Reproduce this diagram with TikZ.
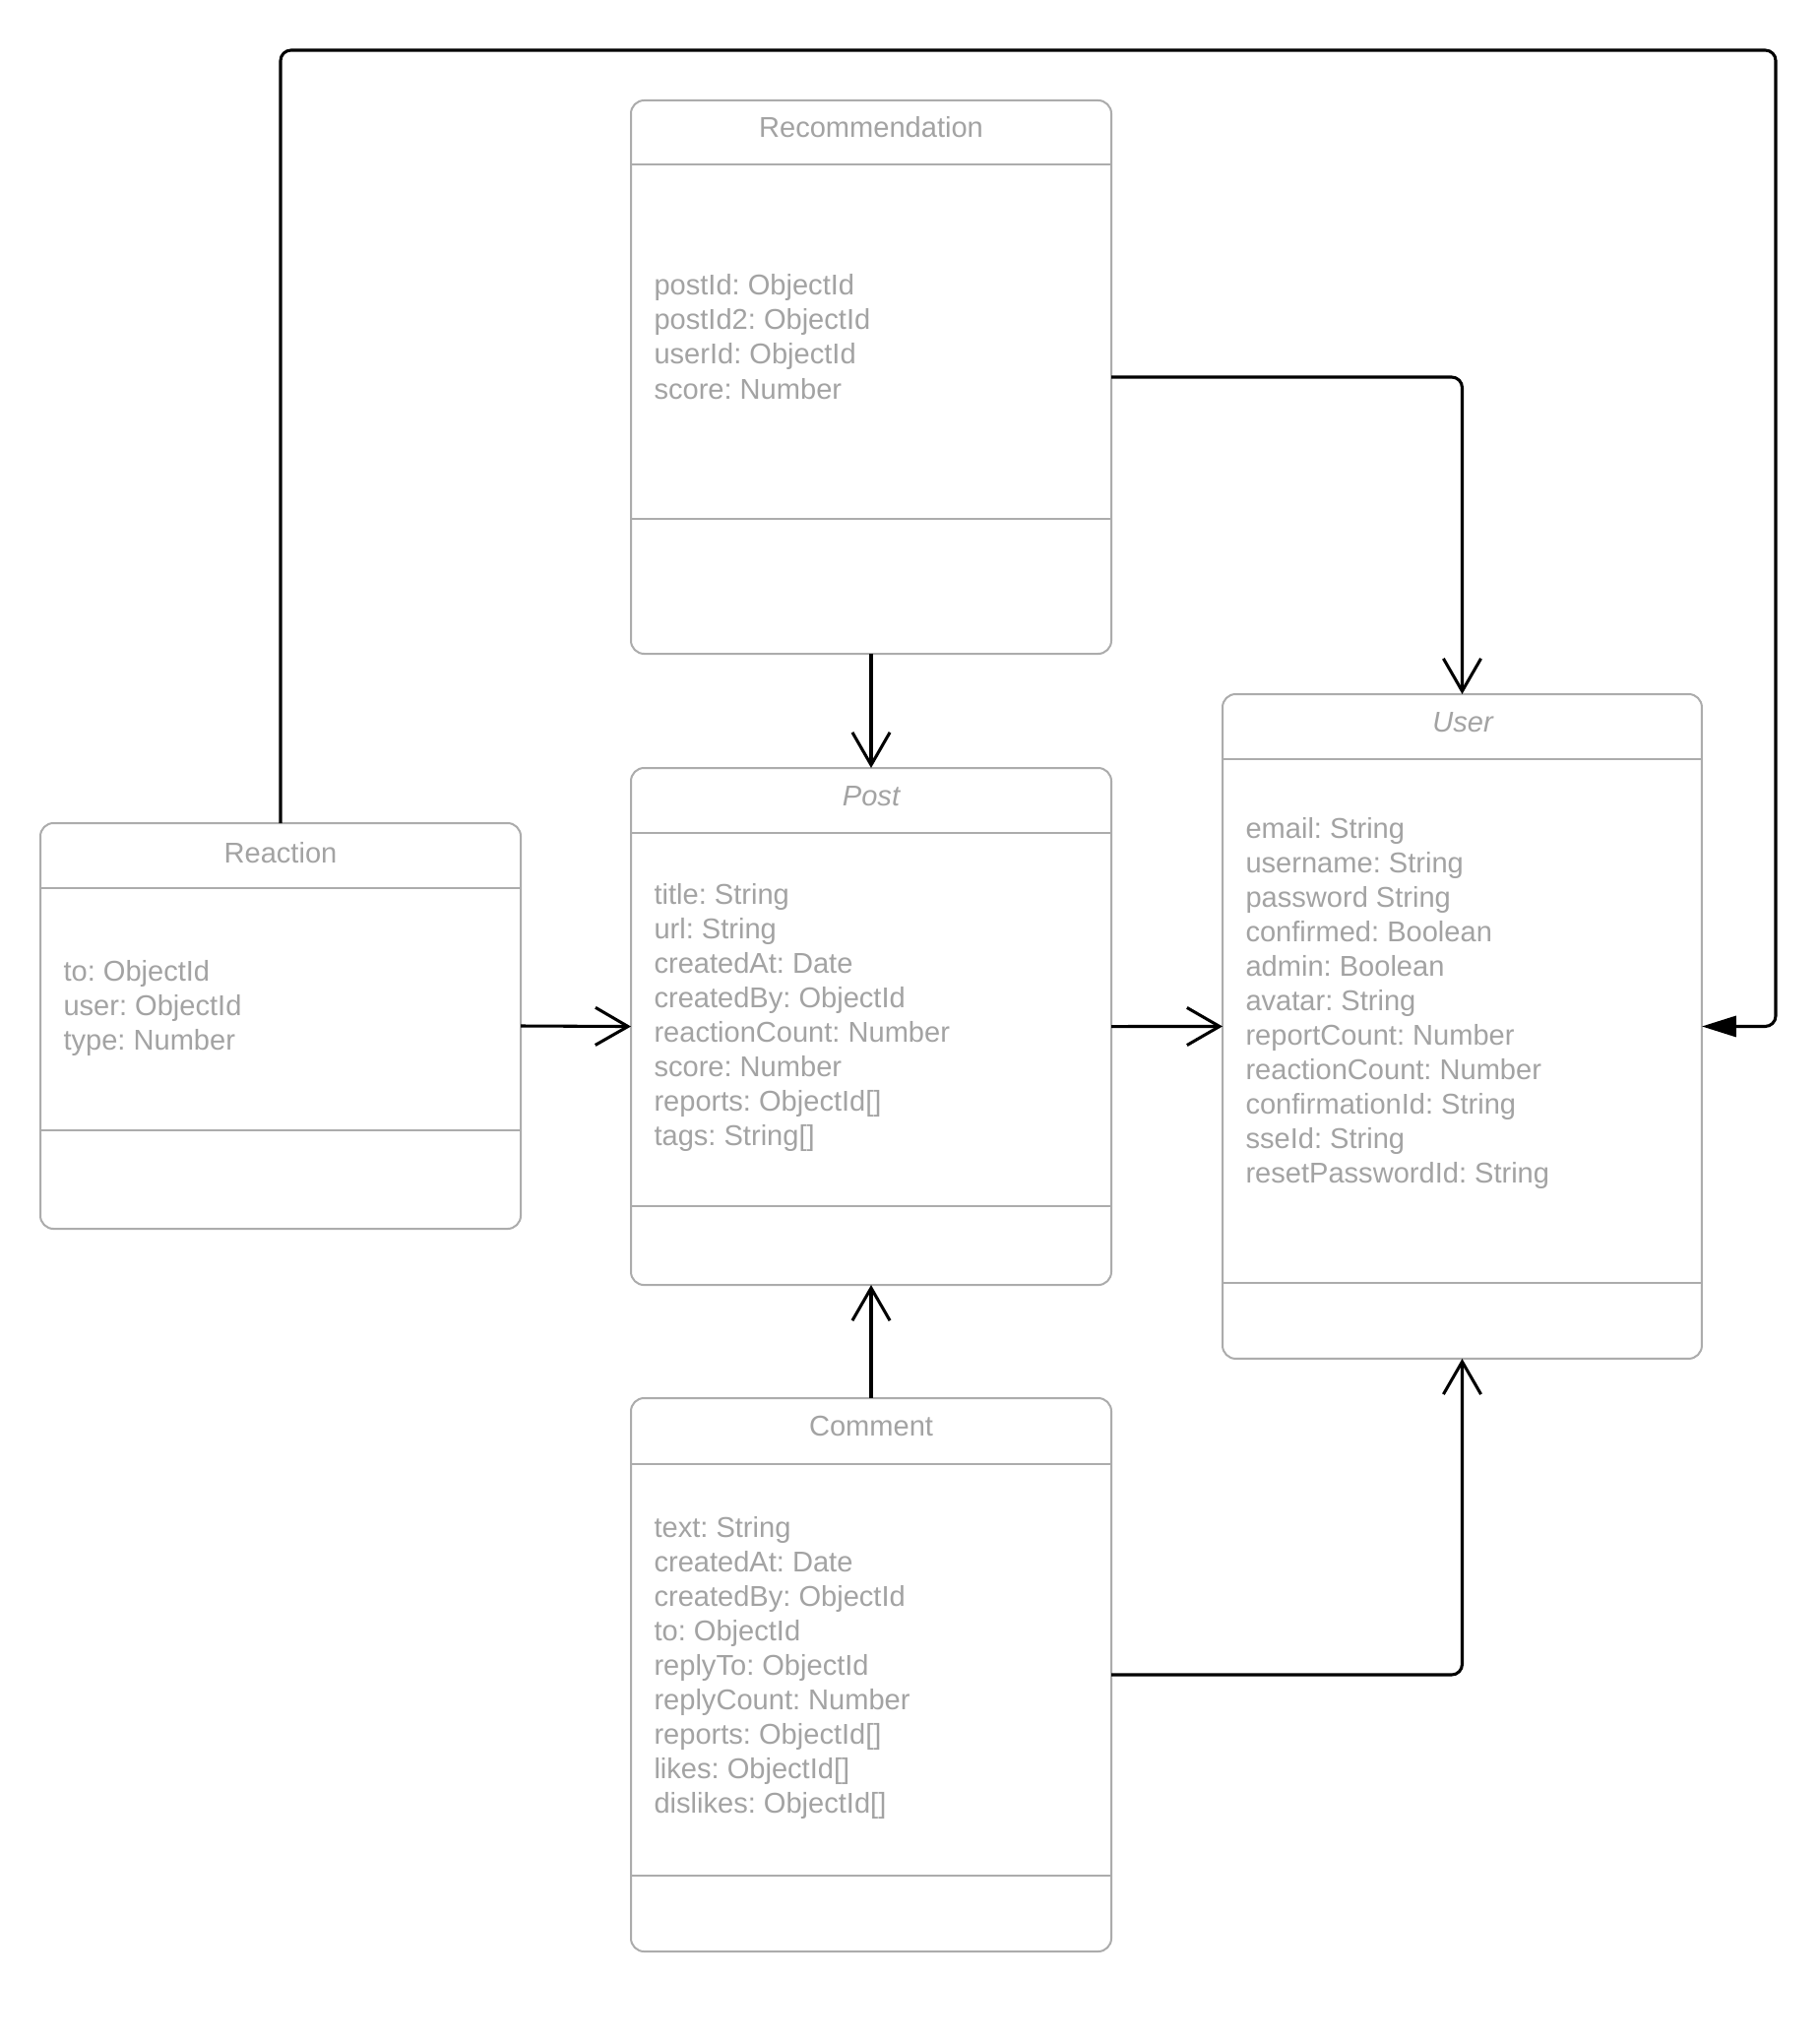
\documentclass[tikz,border=0pt]{standalone}
\usepackage{fontspec}
\setmainfont{Liberation Sans}
\usetikzlibrary{arrows.meta,calc}
\frenchspacing
\definecolor{txtgray}{RGB}{163,163,163}
\definecolor{linegray}{RGB}{172,172,172}
\tikzset{
  classbox/.style={draw=linegray, line width=0.75pt, rounded corners=5pt, inner sep=0pt, outer sep=0pt, anchor=north west, fill=white},
  sepline/.style={draw=linegray, line width=0.75pt},
  title/.style={text=txtgray, inner sep=0pt, anchor=base, font=\fontsize{10.9pt}{13pt}\selectfont},
  attr/.style={text=txtgray, inner sep=0pt, anchor=base west, font=\fontsize{10.9pt}{13pt}\selectfont},
  assoc/.style={draw=black, line width=1.15pt, rounded corners=4pt, -{Straight Barb[length=12.4pt,width=14.3pt,line width=1.15pt]}},
  gen/.style={draw=black, line width=1.15pt, rounded corners=4pt, -{Triangle[length=13.1pt,width=7.9pt]}}
}
\begin{document}
\begin{tikzpicture}[x=0.375pt,y=-0.375pt]
\useasboundingbox (0,0) rectangle (1849,2076);

% boxes
\node[classbox, minimum width=183pt, minimum height=210.75pt] (rec) at (641,102) {};
\node[classbox, minimum width=183pt, minimum height=196.9pt] (post) at (641,780) {};
\node[classbox, minimum width=182.6pt, minimum height=253.1pt] (user) at (1242,705) {};
\node[classbox, minimum width=183pt, minimum height=154.5pt] (reaction) at (41,836) {};
\node[classbox, minimum width=183pt, minimum height=210.75pt] (comment) at (641,1420) {};

% compartment lines
\draw[sepline] ($(rec.north west)+(0,65)$) -- ($(rec.north east)+(0,65)$);
\draw[sepline] ($(rec.south west)+(0,-137)$) -- ($(rec.south east)+(0,-137)$);
\draw[sepline] ($(post.north west)+(0,66)$) -- ($(post.north east)+(0,66)$);
\draw[sepline] ($(post.south west)+(0,-80)$) -- ($(post.south east)+(0,-80)$);
\draw[sepline] ($(user.north west)+(0,66)$) -- ($(user.north east)+(0,66)$);
\draw[sepline] ($(user.south west)+(0,-77)$) -- ($(user.south east)+(0,-77)$);
\draw[sepline] ($(reaction.north west)+(0,66)$) -- ($(reaction.north east)+(0,66)$);
\draw[sepline] ($(reaction.south west)+(0,-100)$) -- ($(reaction.south east)+(0,-100)$);
\draw[sepline] ($(comment.north west)+(0,67)$) -- ($(comment.north east)+(0,67)$);
\draw[sepline] ($(comment.south west)+(0,-77)$) -- ($(comment.south east)+(0,-77)$);

% titles
\node[title] (rec-t) at (885,140) {Recommendation};
\node[title, font=\fontsize{10.9pt}{13pt}\selectfont\itshape] (post-t) at (885,818) {Post};
\node[title, font=\fontsize{10.9pt}{13pt}\selectfont\itshape] (user-t) at (1486,743) {User};
\node[title] (reaction-t) at (285,876) {Reaction};
\node[title] (comment-t) at (885,1458) {Comment};

% attributes
\foreach \t [count=\i from 0] in {postId: ObjectId, postId2: ObjectId, userId: ObjectId, score: Number}
  \node[attr] (rec-a\i) at (664,{300+35*\i}) {\t};
\foreach \t [count=\i from 0] in {title: String, url: String, createdAt: Date, createdBy: ObjectId, reactionCount: Number, score: Number, reports: ObjectId[], tags: String[]}
  \node[attr] (post-a\i) at (664,{918+35*\i}) {\t};
\foreach \t [count=\i from 0] in {email: String, username: String, password String, confirmed: Boolean, admin: Boolean, avatar: String, reportCount: Number, reactionCount: Number, confirmationId: String, sseId: String, resetPasswordId: String}
  \node[attr] (user-a\i) at (1265,{851+35*\i}) {\t};
\foreach \t [count=\i from 0] in {to: ObjectId, user: ObjectId, type: Number}
  \node[attr] (reaction-a\i) at (64,{996+35*\i}) {\t};
\foreach \t [count=\i from 0] in {text: String, createdAt: Date, createdBy: ObjectId, to: ObjectId, replyTo: ObjectId, replyCount: Number, reports: ObjectId[], likes: ObjectId[], dislikes: ObjectId[]}
  \node[attr] (comment-a\i) at (664,{1561+35*\i}) {\t};

% connectors
\coordinate (loopR) at (1804,51);
\draw[assoc] (rec.east) -| (user.north);
\draw[assoc] (rec.south) -- (post.north);
\draw[assoc] (reaction.east) -- (post.west);
\draw[assoc] (post.east) -- (user.west);
\draw[assoc] (comment.north) -- (post.south);
\draw[assoc] (comment.east) -| (user.south);
\draw[gen] (reaction.north) |- (loopR) |- (user.east);
\end{tikzpicture}
\end{document}
